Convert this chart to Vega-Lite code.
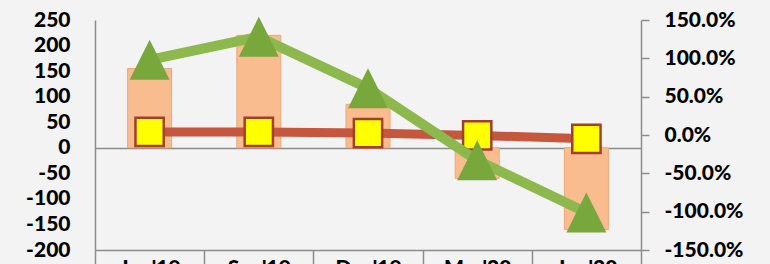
{
  "$schema": "https://vega.github.io/schema/vega-lite/v6.json",
  "width": 546,
  "height": 230,
  "autosize": {"type": "none"},
  "padding": {"left": 95, "top": 20, "right": 129, "bottom": 14},
  "background": "#F3F3F3",
  "config": {
    "view": {"stroke": null},
    "axis": {
      "labelFont": "Lato",
      "labelFontSize": 21,
      "labelFontWeight": 900,
      "labelColor": "#000000",
      "domainColor": "#8C8C8C",
      "domainWidth": 1.5,
      "tickColor": "#8C8C8C",
      "tickWidth": 1.5,
      "grid": false,
      "title": null,
      "labelFlush": false,
      "labelOverlap": false
    }
  },
  "data": {
    "values": [
      {"q": "Jun'19", "value": 155, "growth": 0.98, "margin": 0.04},
      {"q": "Sep'19", "value": 220, "growth": 1.28, "margin": 0.04},
      {"q": "Dec'19", "value": 85, "growth": 0.61, "margin": 0.025},
      {"q": "Mar'20", "value": -60, "growth": -0.33, "margin": -0.005},
      {"q": "Jun'20", "value": -160, "growth": -1.01, "margin": -0.05}
    ]
  },
  "encoding": {
    "x": {
      "field": "q", "type": "nominal", "sort": null,
      "scale": {"paddingInner": 0, "paddingOuter": 0},
      "axis": {"labelAngle": 0, "tickBand": "extent", "tickSize": 24, "labelPadding": -17, "labelBaseline": "top", "labelOverlap": false}
    }
  },
  "layer": [
    {
      "mark": {"type": "bar", "width": 44, "color": "#F8BC8E", "stroke": "#EDA878", "strokeWidth": 1},
      "encoding": {
        "y": {
          "field": "value", "type": "quantitative",
          "scale": {"domain": [-200, 250], "nice": false, "zero": false},
          "axis": {
            "values": [-200, -150, -100, -50, 0, 50, 100, 150, 200, 250],
            "labelExpr": "(datum.value < 0 ? '-' : '') + format(abs(datum.value), 'd')",
            "ticks": false, "labelPadding": 25, "labelOverlap": false,
            "grid": true, "gridColor": "#8C8C8C", "gridWidth": 1.5,
            "gridOpacity": {"condition": {"test": "datum.value === 0", "value": 1}, "value": 0}
          }
        }
      }
    },
    {
      "layer": [
        {
          "mark": {"type": "line", "color": "#C5573F", "strokeWidth": 9},
          "encoding": {
            "y": {
              "field": "margin", "type": "quantitative",
              "scale": {"domain": [-1.5, 1.5], "nice": false, "zero": false},
              "axis": {"orient": "right", "labelExpr": "(datum.value < 0 ? '-' : '') + format(abs(datum.value), '.1%')", "values": [-1.5, -1, -0.5, 0, 0.5, 1, 1.5], "tickSize": 8, "labelPadding": 15, "labelOverlap": false}
            }
          }
        },
        {
          "mark": {"type": "point", "shape": "square", "size": 800, "filled": true, "fill": "#FFFF00", "stroke": "#A33E2A", "strokeWidth": 2.5, "opacity": 1},
          "encoding": {
            "y": {
              "field": "margin", "type": "quantitative",
              "axis": {"orient": "right", "labelExpr": "(datum.value < 0 ? '-' : '') + format(abs(datum.value), '.1%')", "values": [-1.5, -1, -0.5, 0, 0.5, 1, 1.5], "tickSize": 8, "labelPadding": 15, "labelOverlap": false}
            }
          }
        },
        {
          "mark": {"type": "line", "color": "#8DB84E", "strokeWidth": 10},
          "encoding": {
            "y": {
              "field": "growth", "type": "quantitative",
              "axis": {"orient": "right", "labelExpr": "(datum.value < 0 ? '-' : '') + format(abs(datum.value), '.1%')", "values": [-1.5, -1, -0.5, 0, 0.5, 1, 1.5], "tickSize": 8, "labelPadding": 15, "labelOverlap": false}
            }
          }
        },
        {
          "mark": {"type": "point", "shape": "M0,-1L1,1L-1,1Z", "size": 1600, "filled": true, "fill": "#78A83C", "strokeWidth": 0, "opacity": 1},
          "encoding": {
            "y": {
              "field": "growth", "type": "quantitative",
              "axis": {"orient": "right", "labelExpr": "(datum.value < 0 ? '-' : '') + format(abs(datum.value), '.1%')", "values": [-1.5, -1, -0.5, 0, 0.5, 1, 1.5], "tickSize": 8, "labelPadding": 15, "labelOverlap": false}
            }
          }
        }
      ]
    }
  ],
  "resolve": {"scale": {"y": "independent"}}
}
